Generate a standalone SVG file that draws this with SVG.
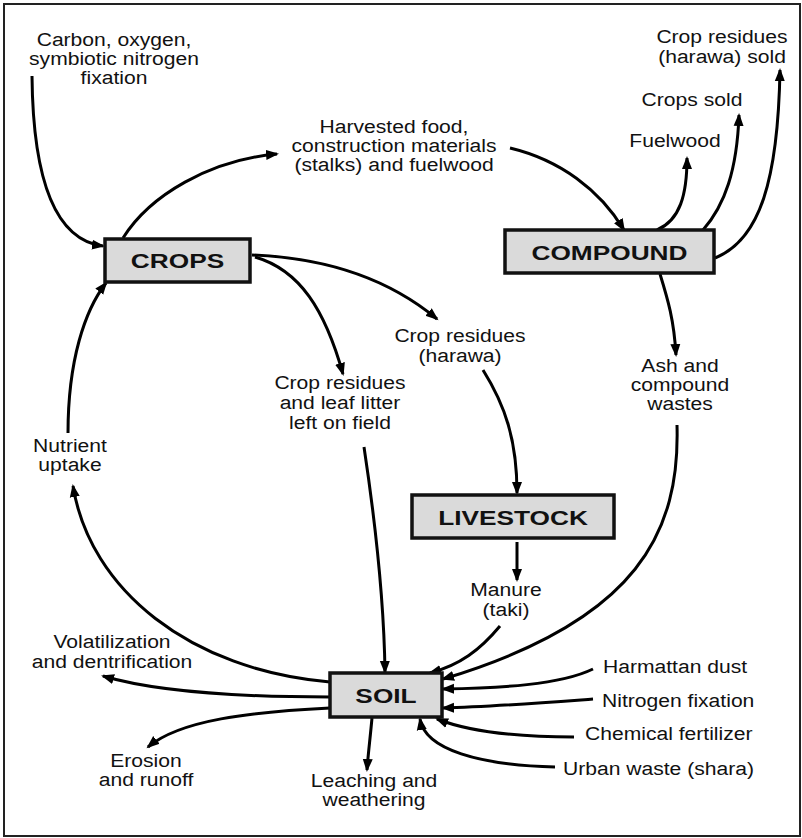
<svg xmlns="http://www.w3.org/2000/svg" width="802" height="838" viewBox="0 0 802 838">
<style>
.box{fill:#dadada;stroke:#111;stroke-width:3.5}
.bt{font-family:"Liberation Sans",Arial,sans-serif;font-weight:bold;font-size:21px;fill:#111;text-anchor:middle}
.t{font-family:"Liberation Sans",Arial,sans-serif;font-size:19px;fill:#111;text-anchor:middle}
.ts{font-family:"Liberation Sans",Arial,sans-serif;font-size:19px;fill:#111;text-anchor:start}
.c{fill:none;stroke:#000;stroke-width:3;marker-end:url(#ah)}
</style>
<defs>
<marker id="ah" markerUnits="userSpaceOnUse" markerWidth="14" markerHeight="12" refX="11" refY="5" orient="auto" viewBox="0 0 14 10">
<path d="M0,0 L13,5 L0,10 z" fill="#000"/>
</marker>
</defs>
<rect width="802" height="838" fill="#fff"/>
<rect x="4" y="4" width="796" height="832" fill="none" stroke="#222" stroke-width="2"/>

<g id="connectors">
<path class="c" d="M32,76 C33,180 55,240 103,246"/>
<path class="c" d="M123,238 C150,195 210,160 277,154"/>
<path class="c" d="M252,255 C330,258 390,280 437,319"/>
<path class="c" d="M255,257 C300,270 325,310 343,374"/>
<path class="c" d="M68,433 C68,360 85,310 106,283"/>
<path class="c" d="M330,682 C190,670 90,590 73,486"/>
<path class="c" d="M364,447 C375,520 384,600 385,672"/>
<path class="c" d="M483,370 C505,405 517,440 517,493"/>
<path class="c" d="M517,542 C517,555 517,565 517,580"/>
<path class="c" d="M660,274 C668,300 674,320 676,355"/>
<path class="c" d="M677,425 C680,530 640,620 443,679"/>
<path class="c" d="M500,626 C480,650 460,665 430,673"/>
<path class="c" d="M593,669 C560,685 500,688 443,689"/>
<path class="c" d="M593,699 C540,703 490,707 443,708"/>
<path class="c" d="M574,737 C520,737 470,732 437,719"/>
<path class="c" d="M555,767 C480,765 425,750 420,719"/>
<path class="c" d="M330,697 C230,697 150,690 103,676"/>
<path class="c" d="M330,708 C250,712 180,720 148,747"/>
<path class="c" d="M372,718 C370,740 368,755 367,770"/>
<path class="c" d="M510,148 C560,160 600,190 624,230"/>
<path class="c" d="M657,230 C680,220 687,195 687,158"/>
<path class="c" d="M703,230 C725,205 737,170 739,115"/>
<path class="c" d="M715,258 C760,240 778,180 780,70"/>
</g>

<g id="crops">
<rect class="box" x="105" y="239" width="145" height="43"/>
<text class="bt" transform="translate(177.5,268) scale(1.25,1)">CROPS</text>
</g>
<g id="compound">
<rect class="box" x="505" y="230" width="209" height="43"/>
<text class="bt" transform="translate(609.5,260) scale(1.25,1)">COMPOUND</text>
</g>
<g id="livestock">
<rect class="box" x="412" y="495" width="202" height="43"/>
<text class="bt" transform="translate(513,525) scale(1.25,1)">LIVESTOCK</text>
</g>
<g id="soil">
<rect class="box" x="330" y="673" width="112" height="44"/>
<text class="bt" transform="translate(386,703) scale(1.25,1)">SOIL</text>
</g>

<g id="labels">
<text id="l-carbon" class="t" transform="translate(114,46) scale(1.11,1)"><tspan x="0">Carbon, oxygen,</tspan><tspan x="0" dy="19">symbiotic nitrogen</tspan><tspan x="0" dy="19">fixation</tspan></text>
<text id="l-harvest" class="t" transform="translate(394,133) scale(1.11,1)"><tspan x="0">Harvested food,</tspan><tspan x="0" dy="19">construction materials</tspan><tspan x="0" dy="19">(stalks) and fuelwood</tspan></text>
<text id="l-resold" class="t" transform="translate(722,43) scale(1.11,1)"><tspan x="0">Crop residues</tspan><tspan x="0" dy="20">(harawa) sold</tspan></text>
<text id="l-cropsold" class="t" transform="translate(692,106) scale(1.11,1)">Crops sold</text>
<text id="l-fuel" class="t" transform="translate(675,147) scale(1.11,1)">Fuelwood</text>
<text id="l-harawa" class="t" transform="translate(460,342) scale(1.11,1)"><tspan x="0">Crop residues</tspan><tspan x="0" dy="20">(harawa)</tspan></text>
<text id="l-litter" class="t" transform="translate(340,389) scale(1.11,1)"><tspan x="0">Crop residues</tspan><tspan x="0" dy="20">and leaf litter</tspan><tspan x="0" dy="20">left on field</tspan></text>
<text id="l-ash" class="t" transform="translate(680,372) scale(1.11,1)"><tspan x="0">Ash and</tspan><tspan x="0" dy="19">compound</tspan><tspan x="0" dy="19">wastes</tspan></text>
<text id="l-uptake" class="t" transform="translate(70,452) scale(1.11,1)"><tspan x="0">Nutrient</tspan><tspan x="0" dy="19">uptake</tspan></text>
<text id="l-manure" class="t" transform="translate(506,596) scale(1.11,1)"><tspan x="0">Manure</tspan><tspan x="0" dy="20">(taki)</tspan></text>
<text id="l-volat" class="t" transform="translate(112,648) scale(1.11,1)"><tspan x="0">Volatilization</tspan><tspan x="0" dy="20">and dentrification</tspan></text>
<text id="l-erosion" class="t" transform="translate(146,767) scale(1.11,1)"><tspan x="0">Erosion</tspan><tspan x="0" dy="19">and runoff</tspan></text>
<text id="l-leach" class="t" transform="translate(374,787) scale(1.11,1)"><tspan x="0">Leaching and</tspan><tspan x="0" dy="19">weathering</tspan></text>
<text id="l-harm" class="ts" transform="translate(603,673) scale(1.11,1)">Harmattan dust</text>
<text id="l-nfix" class="ts" transform="translate(602,707) scale(1.11,1)">Nitrogen fixation</text>
<text id="l-chem" class="ts" transform="translate(585,740) scale(1.11,1)">Chemical fertilizer</text>
<text id="l-urban" class="ts" transform="translate(563,775) scale(1.11,1)">Urban waste (shara)</text>
</g>
</svg>
